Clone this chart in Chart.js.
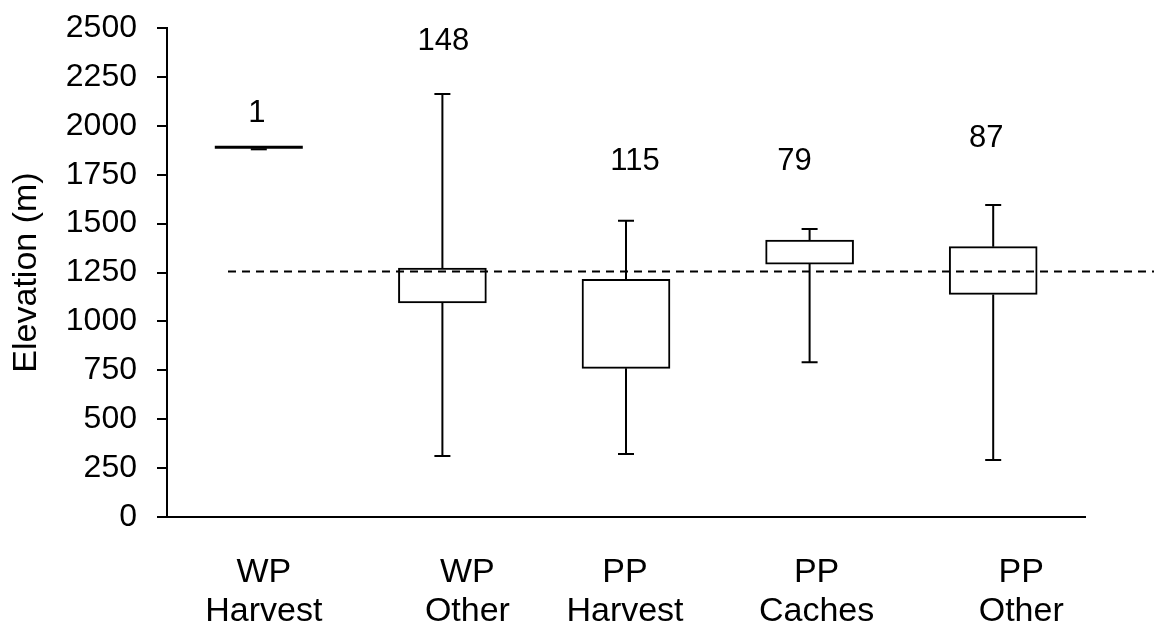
<!DOCTYPE html>
<html>
<head>
<meta charset="utf-8">
<script src="https://cdn.jsdelivr.net/npm/chart.js@4.4.1/dist/chart.umd.min.js"></script>
<style>
  html, body { margin: 0; padding: 0; background: #ffffff; }
  #c { display: block; }
</style>
</head>
<body>
<canvas id="c" width="1154" height="625" style="width:1154px;height:625px"></canvas>
<script>
// ---------------- data ----------------
const categories = [["WP", "Harvest"], ["WP", "Other"], ["PP", "Harvest"], ["PP", "Caches"], ["PP", "Other"]];
const minValues  = [1890,  312,  322,  791,  291];
const q1Values   = [1890, 1094,  760, 1293, 1138];
const q3Values   = [1890, 1273, 1215, 1416, 1382];
const maxValues  = [1890, 2162, 1515, 1472, 1595];
const sampleSizes = [1, 148, 115, 79, 87];
const referenceElevation = 1255;
const yTickValues = [0, 250, 500, 750, 1000, 1250, 1500, 1750, 2000, 2250, 2500];

// ---------------- layout / style constants ----------------
const FONT = '"Liberation Sans", Arial, Helvetica, sans-serif';
const countLabelHeights = [2019, 2387, 1774, 1774, 1891];   // elevation at which each n label sits
const countLabelShift   = [-2, 1, 9, -15, -7];              // px shift of n labels
const categoryLabelShift = [5, 25, -1, 7, 28];              // px shift of category labels
const capHalfWidth = 8;

Chart.defaults.font.family = FONT;
Chart.defaults.color = '#000';

const boxPlugin = {
  id: 'boxWhiskers',
  afterDatasetsDraw(chart) {
    const ctx = chart.ctx;
    const xs = chart.scales.x, ys = chart.scales.y;
    const area = chart.chartArea;
    const meta = chart.getDatasetMeta(0);
    ctx.save();
    ctx.strokeStyle = '#000';
    ctx.lineCap = 'butt';
    for (let i = 0; i < categories.length; i++) {
      const cx = xs.getPixelForValue(i);
      const pMin = ys.getPixelForValue(minValues[i]);
      const pQ1 = ys.getPixelForValue(q1Values[i]);
      const pQ3 = ys.getPixelForValue(q3Values[i]);
      const pMax = ys.getPixelForValue(maxValues[i]);
      ctx.lineWidth = 2;
      ctx.beginPath();
      ctx.moveTo(cx, pQ3); ctx.lineTo(cx, pMax);
      ctx.moveTo(cx, pQ1); ctx.lineTo(cx, pMin);
      ctx.moveTo(cx - capHalfWidth, pMax); ctx.lineTo(cx + capHalfWidth, pMax);
      ctx.moveTo(cx - capHalfWidth, pMin); ctx.lineTo(cx + capHalfWidth, pMin);
      ctx.stroke();
      if (q1Values[i] === q3Values[i]) {
        const w = meta.data[i].width;
        ctx.lineWidth = 3;
        ctx.beginPath();
        ctx.moveTo(cx - w / 2, pQ1); ctx.lineTo(cx + w / 2, pQ1);
        ctx.stroke();
        ctx.lineWidth = 2;
        ctx.beginPath();
        ctx.moveTo(cx - capHalfWidth, pQ1 + 2); ctx.lineTo(cx + capHalfWidth, pQ1 + 2);
        ctx.stroke();
      }
    }
    // reference dashed line
    const pRef = ys.getPixelForValue(referenceElevation);
    ctx.lineWidth = 2;
    ctx.setLineDash([8, 6]);
    ctx.beginPath();
    ctx.moveTo(area.left + 61, pRef);
    ctx.lineTo(chart.width, pRef);
    ctx.stroke();
    ctx.setLineDash([]);

    // sample size labels
    ctx.fillStyle = '#000';
    ctx.textAlign = 'center';
    ctx.textBaseline = 'alphabetic';
    ctx.font = '31px ' + FONT;
    for (let i = 0; i < sampleSizes.length; i++) {
      const cx = xs.getPixelForValue(i) + countLabelShift[i];
      ctx.fillText(String(sampleSizes[i]), cx, ys.getPixelForValue(countLabelHeights[i]));
    }

    // category labels
    ctx.font = '34px ' + FONT;
    for (let i = 0; i < categories.length; i++) {
      const cx = xs.getPixelForValue(i) + categoryLabelShift[i];
      ctx.fillText(categories[i][0], cx, area.bottom + 65);
      ctx.fillText(categories[i][1], cx, area.bottom + 104);
    }
    ctx.restore();
  }
};

new Chart(document.getElementById('c'), {
  type: 'bar',
  data: {
    labels: categories.map(c => c.join(' ')),
    datasets: [{
      data: q1Values.map((q, i) => [q, q3Values[i]]),
      backgroundColor: '#ffffff',
      borderColor: '#000000',
      borderWidth: 2,
      borderSkipped: false,
      barThickness: 88
    }]
  },
  options: {
    responsive: false,
    animation: false,
    layout: { padding: { left: 0, top: 28, right: 69, bottom: 108 } },
    plugins: { legend: { display: false }, tooltip: { enabled: false } },
    scales: {
      x: {
        grid: { display: false, drawTicks: false },
        border: { display: true, color: '#000', width: 2 },
        ticks: { display: false }
      },
      y: {
        min: 0,
        max: 2500,
        afterBuildTicks(scale) { scale.ticks = yTickValues.map(v => ({ value: v })); },
        afterFit(scale) { scale.width = 167; scale.paddingTop = 0; scale.paddingBottom = 0; },
        ticks: { font: { size: 32, family: FONT }, color: '#000', padding: 20, callback: v => String(v) },
        grid: { drawOnChartArea: false, drawTicks: true, tickLength: 10, color: '#000', lineWidth: 2 },
        border: { display: true, color: '#000', width: 2 },
        title: { display: true, text: 'Elevation (m)', color: '#000', font: { size: 34, family: FONT }, padding: { top: 6, bottom: 0 } }
      }
    }
  },
  plugins: [boxPlugin]
});
</script>
</body>
</html>
